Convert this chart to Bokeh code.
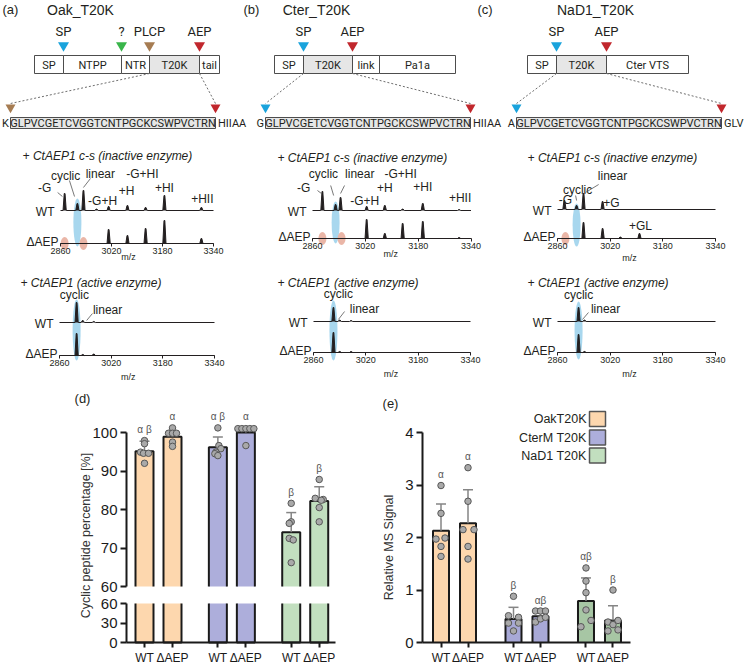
import math
from bokeh.plotting import figure
from bokeh.models import Range1d, LinearAxis, FixedTicker
from bokeh.layouts import column, row
from bokeh.core.properties import value
from bokeh.embed import file_html
from bokeh.resources import INLINE

# ======================= DATA =======================
# ---- constructs (schematic) ----
oak_domains = ["SP", "NTPP", "NTR", "T20K", "tail"]
oak_edges = [34, 63, 121, 149, 199, 219]
oak_sites = ["SP", "?", "PLCP", "AEP"]
oak_site_idx = [1, 2, 3, 4]
oak_flank = ["K", "HIIAA"]

cter_domains = ["SP", "T20K", "link", "Pa1a"]
cter_edges = [274, 303, 352, 379, 455]
cter_sites = ["SP", "AEP"]
cter_site_idx = [1, 2]
cter_flank = ["G", "HIIAA"]

nad_domains = ["SP", "T20K", "Cter VTS"]
nad_edges = [527, 556, 606, 688]
nad_sites = ["SP", "AEP"]
nad_site_idx = [1, 2]
nad_flank = ["A", "GLV"]

t20k_seq = "GLPVCGETCVGGTCNTPGCKCSWPVCTRN"

# ---- MS spectra (m/z, peak heights) ----
mz_ticks = [2860, 3020, 3180, 3340]

a_in_mz = [2873, 2913, 2932, 2973, 3011, 3070, 3127, 3186, 3302]
a_in_wt = [17, 7, 20, 1.5, 4, 5, 3, 15, 3]
a_in_dae = [0, 0, 0, 0, 14, 8, 15, 23, 5]
a_in_lab = ["-G", "cyclic", "linear", "-G+HI", "+H", "-G+H", "+HI", "+HII"]
a_in_lab_mz = [2810, 2876, 2985, 3117, 3067, 2992, 3186, 3305]
a_in_lab_h = [23, 35, 37, 37, 20, 10, 23, 12]
a_in_con = [[2851, 18, 2866, 14], [2888, 30, 2904, 14], [2954, 32, 2932, 23]]
a_in_cyc = [2913, 21, 48]
a_in_lin = [2873, 2932]

a_ac_mz = [2913, 2932, 2966]
a_ac_wt = [20, 2, 1]
a_ac_dae = [22, 1, 1.5]
a_ac_lab = ["cyclic", "linear"]
a_ac_lab_mz = [2906, 3009]
a_ac_lab_h = [28, 13]
a_ac_con = [[2962, 9, 2944, 2]]
a_ac_cyc = [2913, 25.5, 61]

b_in_mz = [2890, 2930, 2945, 3024, 3079, 3133, 3194, 3304]
b_in_wt = [19, 6, 13, 4, 5, 1.5, 7, 1]
b_in_dae = [0, 0, 0, 19, 5, 15, 17, 1]
b_in_lab = ["-G", "cyclic", "linear", "-G+HI", "+H", "-G+H", "+HI", "+HII"]
b_in_lab_mz = [2833, 2893, 3003, 3127, 3079, 3018, 3194, 3307]
b_in_lab_h = [23, 37, 37, 37, 23, 10, 24, 13]
b_in_con = [[2875, 20, 2887, 17], [2915, 25, 2924, 15], [2957, 25, 2945, 17]]
b_in_cyc = [2930, 16, 42]
b_in_lin = [2890, 2948]

b_ac_mz = [2921, 2940, 2975]
b_ac_wt = [14, 1.5, 1]
b_ac_dae = [20, 1, 1]
b_ac_lab = ["cyclic", "linear"]
b_ac_lab_mz = [2936, 3016]
b_ac_lab_h = [28, 13]
b_ac_con = [[2955, 10, 2936, 2]]
b_ac_cyc = [2921, 22, 60]

c_in_mz = [2881, 2918, 2939, 2997, 3051, 3109]
c_in_wt = [9, 4, 16, 8, 0, 0]
c_in_dae = [0, 0, 16, 10, 1.5, 5]
c_in_lab = ["-G", "cyclic", "linear", "+G", "+GL"]
c_in_lab_mz = [2884, 2921, 3027, 3024, 3112]
c_in_lab_h = [10, 19.5, 34, 7, -16]
c_in_con = [[2985, 25, 2945, 17], [2915, 14, 2918, 9]]
c_in_cyc = [2918, 13.5, 43]
c_in_lin = [2884]

c_ac_mz = [2924, 2942]
c_ac_wt = [14, 1.5]
c_ac_dae = [18, 1]
c_ac_lab = ["cyclic", "linear"]
c_ac_lab_mz = [2924, 3006]
c_ac_lab_h = [27, 13]
c_ac_con = [[2954, 9, 2936, 2]]
c_ac_cyc = [2924, 22, 58]

# ---- bar charts ----
groups = ["OakT20K", "CterM T20K", "NaD1 T20K"]
variants = ["WT", "ΔAEP"]

d_means = [95.1, 98.9, 96.2, 100.0, 74.1, 82.2]
d_sd = [2.6, 1.4, 2.6, 1.3, 5.1, 3.7]
d_points = [[97.9, 97.1, 94.9, 94.6, 94.6, 92.0],
            [101.2, 99.8, 99.8, 99.8, 97.5, 96.4],
            [101.2, 96.6, 95.8, 94.9, 94.5, 94.0],
            [101.0, 101.0, 101.0, 101.0, 101.0, 96.6],
            [81.6, 76.8, 76.4, 72.5, 72.1, 66.2],
            [87.8, 82.9, 82.6, 82.4, 80.5, 76.8]]
d_letters = ["α β", "α", "α β", "α", "β", "β"]
d_ticks_low = [0, 30, 60]
d_ticks_up = [60, 70, 80, 90, 100]

e_means = [2.13, 2.27, 0.45, 0.50, 0.79, 0.42]
e_sd = [0.51, 0.64, 0.22, 0.09, 0.44, 0.28]
e_points = [[2.99, 2.46, 1.97, 1.99, 1.83, 1.64],
            [3.33, 2.69, 2.15, 2.15, 1.83, 1.59],
            [0.88, 0.51, 0.48, 0.37, 0.37, 0.22],
            [0.60, 0.60, 0.60, 0.39, 0.45, 0.48],
            [1.42, 1.17, 0.95, 0.62, 0.42, 0.30],
            [1.00, 0.39, 0.34, 0.42, 0.22, 0.24]]
e_letters = ["α", "α", "β", "αβ", "αβ", "β"]
e_ticks = [0, 1, 2, 3, 4]

# ======================= STYLE / LAYOUT =======================
FONT = "Liberation Sans"
SEQFONT = "Roboto"
INK = "#231f20"
AX = "#1a1a1a"
SITE_COL = {"SP": "#1aa3dc", "?": "#39b54a", "PLCP": "#a67c52", "AEP": "#c1272d"}
BAR_D = ["#fdd7ae", "#adaedb", "#c2dfbf"]
BAR_E = ["#fdd7ae", "#a8a9d7", "#a7c6a4"]
LEG_E = ["#fdd7ae", "#adaedb", "#c2dfbf"]

# point jitter in px
d_dx = [[0, 0, -4, -1, 4, 0], [0, -4, 0, 4, 0, 0], [0, 1, 3, -2, -3, 0],
        [-8, -4, 0, 4, 8, 0], [0, 0, -2, -2, 2, 0], [0, -4, 4, 2, 0, 0]]
e_dx = [[0, 0, -5, 4, 0, 0], [0, 0, -5, 6, 0, 0], [0, -5, 5, -5, 5, 0],
        [-5, 0, 5, -5, 0, 5], [0, 0, 0, 0, 5, -5], [0, -5, 0, 5, -5, 5]]

PAGE_W, PAGE_H = 746, 664


def Y(iy):
    return float(iy)


def X(ix):
    return float(ix)


def new_fig(w, h, xr, yr):
    p = figure(width=w, height=h, x_range=xr, y_range=yr, title=None,
               output_backend="svg", toolbar_location=None, min_border=0)
    p.outline_line_color = None
    p.xgrid.visible = False
    p.ygrid.visible = False
    p.background_fill_color = "white"
    p.border_fill_color = "white"
    return p


def put_text(p, xs, ys, texts, size, align="center", baseline="middle",
             style="normal", color=INK, font=FONT, angle=0.0, rng="default"):
    p.text(x=list(xs), y=list(ys), text=list(texts), text_font=value(font),
           text_font_size=f"{size}px", text_align=align, text_baseline=baseline,
           text_font_style=style, text_color=color, angle=angle, y_range_name=rng)


# ======================= DIAGRAM =======================
DIAG_H = 132
diag = new_fig(PAGE_W, DIAG_H, Range1d(0, PAGE_W), Range1d(DIAG_H, 0))
diag.xaxis.visible = False
diag.yaxis.visible = False


def construct(p, letter, letter_c, name, name_ix, domains, edges, sites, site_idx,
              seq_box, flank):
    put_text(p, [letter_c], [Y(9)], [letter], 13, align="left")
    put_text(p, [X(name_ix)], [Y(9)], [name], 14)
    lefts = [X(e) for e in edges[:-1]]
    rights = [X(e) for e in edges[1:]]
    fills = ["#e6e6e6" if d == "T20K" else "white" for d in domains]
    p.quad(left=lefts, right=rights, top=[Y(55)] * len(lefts), bottom=[Y(73)] * len(lefts),
           fill_color=fills, line_color="#4d4d4d", line_width=1)
    put_text(p, [(l + r) / 2 for l, r in zip(lefts, rights)], [Y(64.5)] * len(lefts),
             domains, 11, font=SEQFONT)
    sx = [X(edges[i]) for i in site_idx]
    cols = [SITE_COL[s] for s in sites]
    p.scatter(x=sx, y=[Y(45)] * len(sx), marker="inverted_triangle", size=11,
              fill_color=cols, line_color=None)
    put_text(p, sx, [Y(31)] * len(sx), sites, 13, font=SEQFONT)
    k = domains.index("T20K")
    tl, tr = X(edges[k]), X(edges[k + 1])
    lc = SITE_COL[sites[site_idx.index(k)]]
    rc = SITE_COL[sites[site_idx.index(k + 1)]]
    sl, sr = X(seq_box[0]), X(seq_box[1])
    p.segment(x0=[tl, tr], y0=[Y(73)] * 2, x1=[sl, sr], y1=[Y(103)] * 2,
              line_dash="2 2", line_color="#6d6d6d", line_width=1)
    p.scatter(x=[sl, sr], y=[Y(107)] * 2, marker="inverted_triangle", size=10,
              fill_color=[lc, rc], line_color=None)
    p.quad(left=[sl], right=[sr], top=[Y(117)], bottom=[Y(128)],
           fill_color="#e6e6e6", line_color="#4d4d4d", line_width=1)
    put_text(p, [(sl + sr) / 2], [Y(123)], [t20k_seq], 11, font=SEQFONT)
    put_text(p, [sl - 1.5], [Y(123)], [flank[0]], 11, align="right", font=SEQFONT)
    put_text(p, [sr + 2.5], [Y(123)], [flank[1]], 11, align="left", font=SEQFONT)


construct(diag, "(a)", 2, "Oak_T20K", 80, oak_domains, oak_edges, oak_sites,
          oak_site_idx, (10, 215), oak_flank)
construct(diag, "(b)", 243, "Cter_T20K", 316, cter_domains, cter_edges, cter_sites,
          cter_site_idx, (265, 470), cter_flank)
construct(diag, "(c)", 477, "NaD1_T20K", 595, nad_domains, nad_edges, nad_sites,
          nad_site_idx, (516, 721), nad_flank)


# ======================= SPECTRA =======================
def trace(mz, ints, off, hw):
    pk = sorted((m, h) for m, h in zip(mz, ints) if h > 0)
    xs = [float(mz_ticks[0])]
    ys = [off]
    for m, h in pk:
        xs += [m - hw, m - 0.25 * hw, m + 0.25 * hw, m + hw]
        ys += [off, off + h, off + h, off]
    xs.append(float(mz_ticks[-1]))
    ys.append(off)
    return xs, ys


def spectrum(W, H, top_c, col_left, L, title, mz, wt, dae, lab, lab_mz, lab_h, con,
             cyc, lin):
    ppm = (L["ax1"] - L["ax0"]) / float(mz_ticks[-1] - mz_ticks[0])
    x0 = mz_ticks[0] - (X(L["ax0"]) - col_left) / ppm
    x1 = x0 + W / ppm
    yb = Y(L["dae"])
    p = new_fig(W, H, Range1d(x0, x1), Range1d(yb - (top_c + H), yb - top_c))
    p.yaxis.visible = False
    ax = p.xaxis[0]
    ax.fixed_location = 0
    ax.bounds = (mz_ticks[0], mz_ticks[-1])
    ax.ticker = FixedTicker(ticks=mz_ticks)
    ax.axis_line_color = INK
    ax.axis_line_width = 1
    ax.major_tick_line_color = INK
    ax.major_tick_out = 3
    ax.major_tick_in = 0
    ax.minor_tick_line_color = None
    ax.major_label_text_font = FONT
    ax.major_label_text_font_size = "9px"
    ax.major_label_text_color = INK
    ax.major_label_standoff = 1
    wt_off = Y(L["dae"]) - Y(L["wt"])
    hw = 1.6 / ppm
    if cyc:
        p.ellipse(x=[cyc[0]], y=[cyc[1]], width=8 / ppm, height=cyc[2],
                  fill_color="#9ed3ec", fill_alpha=0.9, line_color=None)
    if lin:
        p.ellipse(x=lin, y=[0] * len(lin), width=8 / ppm, height=13,
                  fill_color="#e9b2a2", fill_alpha=0.95, line_color=None)
    for off, ints in ((wt_off, wt), (0.0, dae)):
        xs, ys = trace(mz, ints, off, hw)
        p.varea(x=xs, y1=[off] * len(xs), y2=ys, fill_color=INK)
        p.line(xs, ys, line_color=INK, line_width=1)
    put_text(p, [L["tmz"]], [wt_off + L["th"]], [title], 12, align="left", style="italic")
    put_text(p, [mz_ticks[0] - 6 / ppm], [wt_off - 1], ["WT"], 12, align="right")
    put_text(p, [mz_ticks[0] - 2 / ppm], [2], ["ΔAEP"], 12, align="right")
    put_text(p, lab_mz, [wt_off + h for h in lab_h], lab, 12)
    p.segment(x0=[c[0] for c in con], y0=[wt_off + c[1] for c in con],
              x1=[c[2] for c in con], y1=[wt_off + c[3] for c in con],
              line_color="#555555", line_width=0.8)
    put_text(p, [L["mzx"]], [L["mzy"]], ["m/z"], 9)
    return p


T_IN, H_IN = 132, 134
T_AC, H_AC = 266, 122
COLS = [(0, 248), (248, 247), (495, 251)]
TI = "+ CtAEP1 c-s (inactive enzyme)"
TA = "+ CtAEP1 (active enzyme)"

sa1 = spectrum(COLS[0][1], H_IN, T_IN, COLS[0][0],
               dict(ax0=60, ax1=213, dae=243, wt=210, tmz=2741, th=55, mzx=3073, mzy=-13),
               TI, a_in_mz, a_in_wt, a_in_dae, a_in_lab, a_in_lab_mz, a_in_lab_h,
               a_in_con, a_in_cyc, a_in_lin)
sa2 = spectrum(COLS[0][1], H_AC, T_AC, COLS[0][0],
               dict(ax0=59, ax1=214, dae=355, wt=322, tmz=2739, th=40, mzx=3073, mzy=-21),
               TA, a_ac_mz, a_ac_wt, a_ac_dae, a_ac_lab, a_ac_lab_mz, a_ac_lab_h,
               a_ac_con, a_ac_cyc, None)
sb1 = spectrum(COLS[1][1], H_IN, T_IN, COLS[1][0],
               dict(ax0=312, ax1=470.5, dae=238, wt=210, tmz=2754, th=53, mzx=3097, mzy=-15),
               TI, b_in_mz, b_in_wt, b_in_dae, b_in_lab, b_in_lab_mz, b_in_lab_h,
               b_in_con, b_in_cyc, b_in_lin)
sb2 = spectrum(COLS[1][1], H_AC, T_AC, COLS[1][0],
               dict(ax0=313, ax1=470, dae=352, wt=321, tmz=2750, th=39, mzx=3097, mzy=-21),
               TA, b_ac_mz, b_ac_wt, b_ac_dae, b_ac_lab, b_ac_lab_mz, b_ac_lab_h,
               b_ac_con, b_ac_cyc, None)
sc1 = spectrum(COLS[2][1], H_IN, T_IN, COLS[2][0],
               dict(ax0=557, ax1=715, dae=238, wt=209, tmz=2769, th=52, mzx=3079, mzy=-19),
               TI, c_in_mz, c_in_wt, c_in_dae, c_in_lab, c_in_lab_mz, c_in_lab_h,
               c_in_con, c_in_cyc, c_in_lin)
sc2 = spectrum(COLS[2][1], H_AC, T_AC, COLS[2][0],
               dict(ax0=557, ax1=715, dae=352, wt=321, tmz=2769, th=39, mzx=3079, mzy=-21),
               TA, c_ac_mz, c_ac_wt, c_ac_dae, c_ac_lab, c_ac_lab_mz, c_ac_lab_h,
               c_ac_con, c_ac_cyc, None)


# ======================= BAR CHARTS =======================
def style_axis(ax, size):
    ax.axis_line_width = 2
    ax.axis_line_color = AX
    ax.major_tick_line_width = 2
    ax.major_tick_line_color = AX
    ax.major_tick_out = 6
    ax.major_tick_in = 0
    ax.minor_tick_line_color = None
    ax.major_label_text_font = FONT
    ax.major_label_text_font_size = f"{size}px"
    ax.major_label_text_color = AX
    ax.major_label_standoff = 3


def bars(p, pos, unit, bw_px, means, sds, pts, dx, letters, fills, rng, base_val, px_per):
    half = bw_px / unit / 2.0
    p.vbar(x=pos, top=means, bottom=base_val, width=2 * half, fill_color=fills,
           line_color=None, y_range_name=rng)
    p.multi_line(xs=[[x - half, x - half, x + half, x + half] for x in pos],
                 ys=[[base_val, m, m, base_val] for m in means],
                 line_color=AX, line_width=2, y_range_name=rng)
    tops = [m + s for m, s in zip(means, sds)]
    cap = 5.0 / unit
    p.segment(x0=pos, y0=means, x1=pos, y1=tops, line_color="#858585", line_width=1.5,
              y_range_name=rng)
    p.segment(x0=[x - cap for x in pos], y0=tops, x1=[x + cap for x in pos], y1=tops,
              line_color="#858585", line_width=1.5, y_range_name=rng)
    px, py = [], []
    for x, vals, offs in zip(pos, pts, dx):
        for v, o in zip(vals, offs):
            px.append(x + o / unit)
            py.append(v)
    p.scatter(px, py, size=6.5, fill_color="#a9a9a9", line_color="#575757", line_width=1,
              y_range_name=rng)
    ly = [max(max(v), t) + 11.0 / px_per for v, t in zip(pts, tops)]
    put_text(p, pos, ly, letters, 10, color="#555555", rng=rng)


TOP_B = T_AC + H_AC
H_B = PAGE_H - TOP_B

# ---- (d) broken axis ----
W_D = 370
d_unit = 28.0
d_gap = 2.62
d_pos = [g * d_gap + s for g in range(3) for s in range(2)]
d_x0c = X(144)
low_px = (Y(642) - Y(603)) / 60.0
up_px = (Y(586) - Y(432)) / 40.0
pd = new_fig(W_D, H_B,
             Range1d((0 - d_x0c) / d_unit, (W_D - d_x0c) / d_unit),
             Range1d(-(TOP_B + H_B - Y(642)) / low_px, (Y(642) - TOP_B) / low_px))
pd.extra_y_ranges = {"up": Range1d(60 - (TOP_B + H_B - Y(586)) / up_px,
                                   60 + (Y(586) - TOP_B) / up_px)}
d_axis_x = (X(126) - d_x0c) / d_unit
d_fills = [BAR_D[g] for g in range(3) for s in range(2)]

# lower segment (0-60)
pd.vbar(x=d_pos, top=[60] * 6, bottom=0, width=18 / d_unit, fill_color=d_fills,
        line_color=None)
pd.multi_line(xs=[[x - 9 / d_unit, x - 9 / d_unit, x + 9 / d_unit, x + 9 / d_unit] for x in d_pos],
              ys=[[60, 0, 0, 60] for _ in d_pos], line_color=AX, line_width=2)
bars(pd, d_pos, d_unit, 18, d_means, d_sd, d_points, d_dx, d_letters, d_fills, "up", 60, up_px)

ya = pd.yaxis[0]
ya.fixed_location = d_axis_x
ya.bounds = (0, 60)
ya.ticker = FixedTicker(ticks=d_ticks_low)
style_axis(ya, 15)
yu = LinearAxis(y_range_name="up", fixed_location=d_axis_x, bounds=(60, 100),
                ticker=FixedTicker(ticks=d_ticks_up))
style_axis(yu, 15)
pd.add_layout(yu, "left")
xa = pd.xaxis[0]
xa.fixed_location = 0
xa.bounds = (d_axis_x, (X(335) - d_x0c) / d_unit)
xa.ticker = FixedTicker(ticks=d_pos)
xa.major_label_overrides = {x: variants[i % 2] for i, x in enumerate(d_pos)}
style_axis(xa, 12)
xa.major_tick_out = 5
put_text(pd, [(X(85) - d_x0c) / d_unit], [(Y(642) - Y(535)) / low_px],
         ["Cyclic peptide percentage [%]"], 12.5, angle=math.pi / 2, color="#333333")
put_text(pd, [(X(82) - d_x0c) / d_unit], [(Y(642) - Y(398)) / low_px], ["(d)"], 13)

# ---- (e) ----
W_E = PAGE_W - W_D
e_unit = 27.0
e_gap = 2.685
e_pos = [g * e_gap + s for g in range(3) for s in range(2)]
e_x0c = X(440.5)
e_left_c = float(W_D)
e_px = (Y(642) - Y(432)) / 4.0
pe = new_fig(W_E, H_B,
             Range1d((e_left_c - e_x0c) / e_unit, (e_left_c + W_E - e_x0c) / e_unit),
             Range1d(-(TOP_B + H_B - Y(642)) / e_px, (Y(642) - TOP_B) / e_px))
e_fills = [BAR_E[g] for g in range(3) for s in range(2)]
bars(pe, e_pos, e_unit, 16, e_means, e_sd, e_points, e_dx, e_letters, e_fills,
     "default", 0, e_px)
e_axis_x = (X(422) - e_x0c) / e_unit
ye = pe.yaxis[0]
ye.fixed_location = e_axis_x
ye.bounds = (0, 4)
ye.ticker = FixedTicker(ticks=e_ticks)
style_axis(ye, 15)
xe = pe.xaxis[0]
xe.fixed_location = 0
xe.bounds = (e_axis_x, (X(630) - e_x0c) / e_unit)
xe.ticker = FixedTicker(ticks=e_pos)
xe.major_label_overrides = {x: variants[i % 2] for i, x in enumerate(e_pos)}
style_axis(xe, 12)
xe.major_tick_out = 5
put_text(pe, [(X(388) - e_x0c) / e_unit], [(Y(642) - Y(547)) / e_px],
         ["Relative MS Signal"], 12.5, angle=math.pi / 2, color="#333333")
put_text(pe, [(X(390) - e_x0c) / e_unit], [(Y(642) - Y(403)) / e_px], ["(e)"], 13)
# legend
leg_y = [(Y(642) - Y(iy)) / e_px for iy in (418.5, 437, 455)]
pe.rect(x=[(X(597) - e_x0c) / e_unit] * 3, y=leg_y, width=16 / e_unit,
        height=15 / e_px, fill_color=LEG_E, line_color="#555555", line_width=1.5)
put_text(pe, [(X(586) - e_x0c) / e_unit] * 3, leg_y, groups, 12.5, align="right")

# ======================= LAYOUT =======================
layout = column(
    diag,
    row(column(sa1, sa2), column(sb1, sb2), column(sc1, sc2)),
    row(pd, pe),
)

open("out.html", "w").write(file_html(layout, INLINE))
